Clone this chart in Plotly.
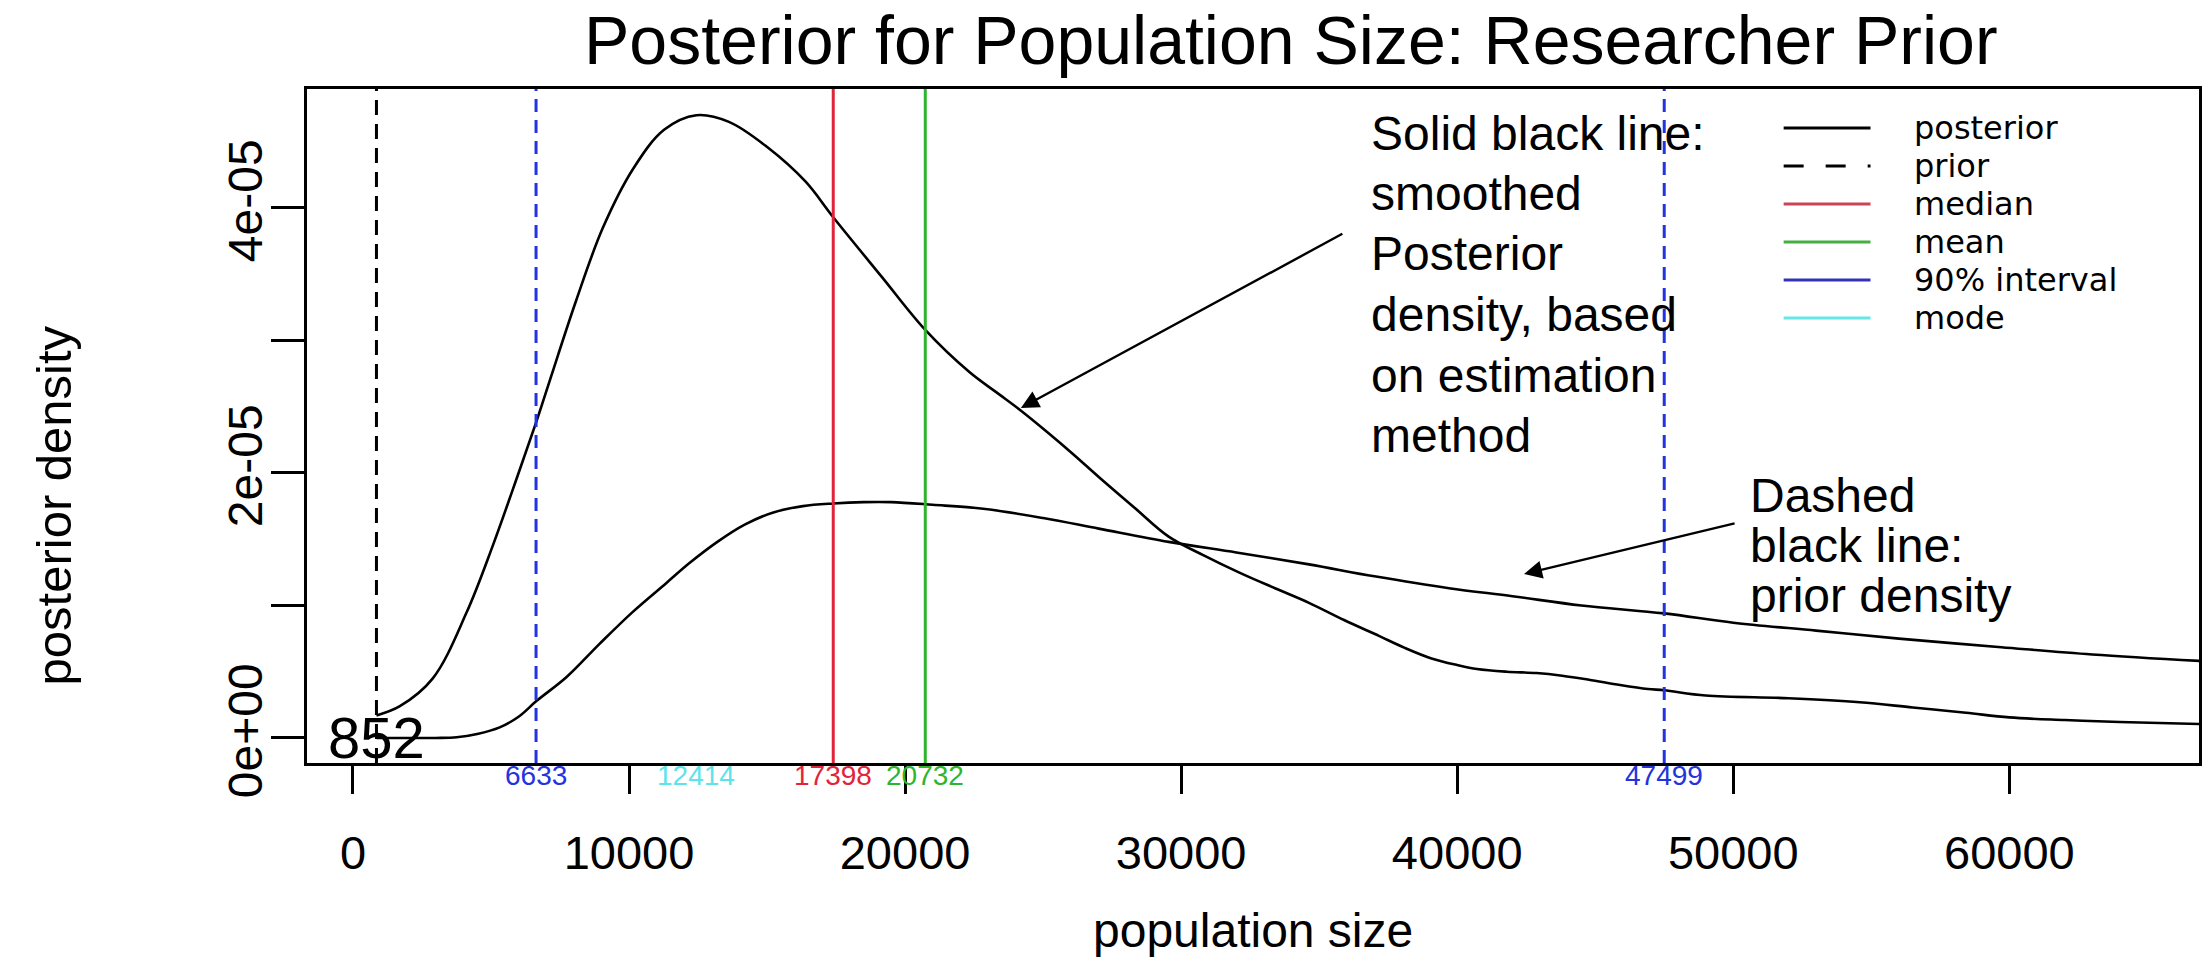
import plotly.graph_objects as go

# ---------------- data ----------------
posterior_x = [852, 1700, 2893, 4123, 5063, 6000, 6633, 7118, 8083, 9053, 10163, 11270,
               12440, 13620, 15005, 16390, 17398, 19157, 20732, 22340, 23300, 24200, 25200,
               26100, 27016, 28300, 29548, 30800, 32090, 33400, 34630, 35900, 37165, 38100,
               39070, 40000, 40715, 41800, 42870, 43800, 44770, 45900, 46908, 47499, 49000,
               52000, 54580, 56500, 58430, 60000, 62000, 64000, 67000]
posterior_y = [0.17e-5, 0.24e-5, 0.45e-5, 0.95e-5, 1.45e-5, 2.00e-5, 2.38e-5, 2.69e-5, 3.30e-5,
               3.85e-5, 4.30e-5, 4.59e-5, 4.70e-5, 4.65e-5, 4.46e-5, 4.20e-5, 3.93e-5, 3.48e-5,
               3.08e-5, 2.76e-5, 2.61e-5, 2.47e-5, 2.30e-5, 2.14e-5, 1.97e-5, 1.74e-5, 1.52e-5,
               1.38e-5, 1.25e-5, 1.13e-5, 1.02e-5, 0.89e-5, 0.77e-5, 0.68e-5, 0.60e-5, 0.55e-5,
               0.52e-5, 0.50e-5, 0.49e-5, 0.47e-5, 0.44e-5, 0.40e-5, 0.37e-5, 0.36e-5, 0.32e-5,
               0.30e-5, 0.27e-5, 0.23e-5, 0.19e-5, 0.155e-5, 0.135e-5, 0.12e-5, 0.105e-5]

prior_x = [852, 2000, 3000, 3760, 4500, 5316, 6000, 6655, 7740, 8933, 10127, 11356, 12190,
           13200, 14190, 15200, 16300, 17398, 18500, 19500, 21000, 22830, 25000, 27016, 29548,
           32000, 34630, 37000, 39704, 42000, 44500, 47499, 50000, 53000, 56000, 59711, 63000,
           67000]
prior_y = [0.0, 0.0, 0.0, 0.005e-5, 0.03e-5, 0.08e-5, 0.16e-5, 0.28e-5, 0.46e-5, 0.71e-5,
           0.95e-5, 1.17e-5, 1.32e-5, 1.48e-5, 1.61e-5, 1.70e-5, 1.75e-5, 1.77e-5, 1.78e-5,
           1.78e-5, 1.76e-5, 1.73e-5, 1.66e-5, 1.58e-5, 1.48e-5, 1.40e-5, 1.31e-5, 1.22e-5,
           1.13e-5, 1.07e-5, 1.00e-5, 0.94e-5, 0.87e-5, 0.81e-5, 0.75e-5, 0.685e-5, 0.63e-5,
           0.58e-5]

min_value = 852
interval_90 = [6633, 47499]
mode_value = 12414
median_value = 17398
mean_value = 20732

x_tick_vals = [0, 10000, 20000, 30000, 40000, 50000, 60000]
x_tick_text = ["0", "10000", "20000", "30000", "40000", "50000", "60000"]
y_tick_vals = [0, 1e-5, 2e-5, 3e-5, 4e-5]
y_tick_text = ["0e+00", "", "2e-05", "", "4e-05"]

legend_labels = ["posterior", "prior", "median", "mean", "90% interval", "mode"]

title_text = "Posterior for Population Size: Researcher Prior"
x_title = "population size"
y_title = "posterior density"
note_posterior_lines = ["Solid black line:", "smoothed", "Posterior", "density, based",
                        "on estimation", "method"]
note_prior_lines = ["Dashed", "black line:", "prior density"]

# ---------------- styling ----------------
FONT = "Liberation Sans, Arial, Helvetica, sans-serif"
LEG_FONT = "DejaVu Sans, Liberation Sans, sans-serif"
BLACK = "#000000"
RED = "#e0243a"
GREEN = "#2db52d"
BLUE = "#2233e0"
CYAN = "#5fe3ea"
LEG_RED = "#cc4455"
LEG_GREEN = "#44b044"
LEG_BLUE = "#3333b8"
LEG_CYAN = "#66e6e6"

W, H = 2205, 966
L, R, T, B = 307, 2202, 89, 763


def px_x(p):
    return (p - L) / (R - L)


def px_y(p):
    return (B - p) / (B - T)


fig = go.Figure()

fig.add_trace(go.Scatter(x=prior_x, y=prior_y, mode="lines",
                         line=dict(color=BLACK, width=2.6, shape="spline", smoothing=1.0),
                         showlegend=False, hoverinfo="skip"))
fig.add_trace(go.Scatter(x=posterior_x, y=posterior_y, mode="lines",
                         line=dict(color=BLACK, width=2.6, shape="spline", smoothing=1.0),
                         showlegend=False, hoverinfo="skip"))

shapes = []
shapes.append(dict(type="line", xref="x", yref="paper", x0=min_value, x1=min_value, y0=0, y1=1,
                   line=dict(color=BLACK, width=3, dash="15px,9px")))
for v in interval_90:
    shapes.append(dict(type="line", xref="x", yref="paper", x0=v, x1=v, y0=0, y1=1,
                       line=dict(color=BLUE, width=3, dash="13px,8px")))
shapes.append(dict(type="line", xref="x", yref="paper", x0=median_value, x1=median_value, y0=0, y1=1,
                   line=dict(color=RED, width=3)))
shapes.append(dict(type="line", xref="x", yref="paper", x0=mean_value, x1=mean_value, y0=0, y1=1,
                   line=dict(color=GREEN, width=3)))

# manual legend (R-style, no box)
legend_styles = [(BLACK, None), (BLACK, "20px,22px"), (LEG_RED, None), (LEG_GREEN, None),
                 (LEG_BLUE, None), (LEG_CYAN, None)]
legend_rows = [128, 166, 204, 242, 280, 318]
annotations = []
for lab, (col, dash), ry in zip(legend_labels, legend_styles, legend_rows):
    ln = dict(color=col, width=2.8)
    if dash:
        ln["dash"] = dash
    shapes.append(dict(type="line", xref="paper", yref="paper",
                       x0=px_x(1786), x1=px_x(1873), y0=px_y(ry), y1=px_y(ry), line=ln))
    annotations.append(dict(xref="paper", yref="paper", x=px_x(1915), y=px_y(ry), text=lab,
                            showarrow=False, xanchor="left", yanchor="middle",
                            font=dict(family=LEG_FONT, size=32, color=BLACK)))

# value labels under the axis
for val, col in [(interval_90[0], BLUE), (mode_value, CYAN), (median_value, RED),
                 (mean_value, GREEN), (interval_90[1], BLUE)]:
    annotations.append(dict(xref="x", yref="paper", x=val, y=px_y(775), text=str(val),
                            showarrow=False, xanchor="center", yanchor="middle",
                            font=dict(family=FONT, size=28, color=col)))

# "852" label at (min, 0)
annotations.append(dict(xref="x", yref="y", x=min_value, y=0, text=str(min_value), showarrow=False,
                        xanchor="center", yanchor="middle",
                        font=dict(family=FONT, size=58, color=BLACK)))

# title and axis titles
annotations.append(dict(xref="paper", yref="paper", x=px_x(1293), y=px_y(40), text=title_text,
                        showarrow=False, xanchor="center", yanchor="middle",
                        font=dict(family=FONT, size=68, color=BLACK)))
annotations.append(dict(xref="paper", yref="paper", x=px_x(1255), y=px_y(930), text=x_title,
                        showarrow=False, xanchor="center", yanchor="middle",
                        font=dict(family=FONT, size=48, color=BLACK)))
annotations.append(dict(xref="paper", yref="paper", x=px_x(54), y=px_y(505), text=y_title,
                        showarrow=False, xanchor="center", yanchor="middle", textangle=-90,
                        font=dict(family=FONT, size=49, color=BLACK)))

# explanatory notes (one annotation per line to match the line spacing)
for i, line in enumerate(note_posterior_lines):
    annotations.append(dict(xref="paper", yref="paper", x=px_x(1371), y=px_y(133 + 60.5 * i),
                            text=line, showarrow=False, xanchor="left", yanchor="middle",
                            font=dict(family=FONT, size=48, color=BLACK)))
for i, line in enumerate(note_prior_lines):
    annotations.append(dict(xref="paper", yref="paper", x=px_x(1750), y=px_y(495 + 50 * i),
                            text=line, showarrow=False, xanchor="left", yanchor="middle",
                            font=dict(family=FONT, size=48, color=BLACK)))

# arrows
for tip, tail in [((1022, 408), (1345, 233)), ((1526, 574), (1738, 523))]:
    annotations.append(dict(xref="paper", yref="paper", x=px_x(tip[0]), y=px_y(tip[1]),
                            ax=tail[0] - tip[0], ay=tail[1] - tip[1], text="",
                            showarrow=True, arrowhead=2, arrowsize=1.5, arrowwidth=2.4,
                            arrowcolor=BLACK, standoff=0, startstandoff=0))

fig.update_layout(
    width=W, height=H,
    margin=dict(l=L, r=W - R, t=T, b=H - B, pad=0),
    paper_bgcolor="white", plot_bgcolor="white",
    shapes=shapes, annotations=annotations,
    showlegend=False,
    font=dict(family=FONT, color=BLACK),
)
fig.update_xaxes(range=[-1664, 66870], tickvals=x_tick_vals, ticktext=x_tick_text,
                 ticks="outside", ticklen=28, tickwidth=2.5, tickcolor=BLACK,
                 showline=True, linecolor=BLACK, linewidth=2.8, mirror=True,
                 showgrid=False, zeroline=False, ticklabelstandoff=19,
                 tickfont=dict(family=FONT, size=47, color=BLACK))
fig.update_yaxes(range=[-0.189e-5, 4.898e-5], tickvals=y_tick_vals, ticktext=y_tick_text,
                 ticks="outside", ticklen=33, tickwidth=2.5, tickcolor=BLACK, tickangle=-90,
                 showline=True, linecolor=BLACK, linewidth=2.8, mirror=True,
                 showgrid=False, zeroline=False, ticklabelstandoff=-10,
                 tickfont=dict(family=FONT, size=48, color=BLACK))

fig.write_html("out.html", config={"displayModeBar": False},
               post_script="document.body.style.margin='0px';")
